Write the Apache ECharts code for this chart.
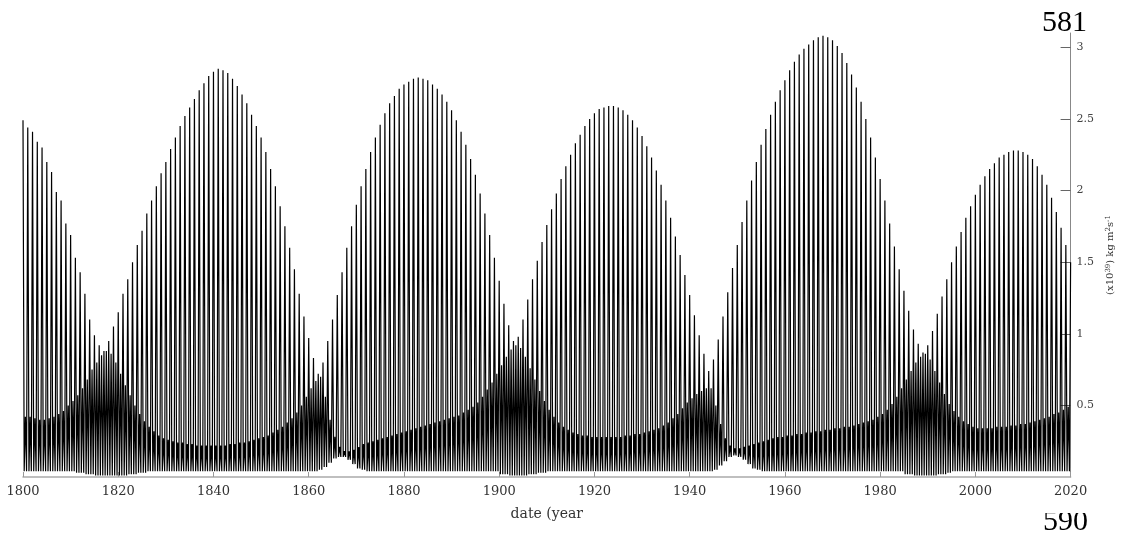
<!DOCTYPE html>
<html>
<head>
<meta charset="utf-8">
<script src="https://cdn.jsdelivr.net/npm/echarts@6/dist/echarts.min.js"></script>
<style>
html,body{margin:0;padding:0;background:#fff;}
#chart{width:1123px;height:533px;}
</style>
</head>
<body>
<div id="chart"></div>
<script>
// Year of each cycle (1800 .. 2020)
var startYear = 1800;
// Height of the tall spike in each yearly cycle
var peakValues = [
2.49,2.44,2.41,2.34,2.30,2.20,2.13,1.99,1.93,1.77,
1.69,1.53,1.43,1.28,1.10,0.99,0.92,0.88,0.95,1.05,
1.15,1.28,1.38,1.50,1.62,1.72,1.84,1.93,2.03,2.12,
2.20,2.29,2.37,2.45,2.52,2.58,2.64,2.70,2.75,2.80,
2.83,2.85,2.84,2.82,2.78,2.73,2.67,2.61,2.53,2.45,
2.37,2.27,2.15,2.03,1.89,1.75,1.60,1.45,1.28,1.12,
0.97,0.83,0.72,0.80,0.95,1.10,1.27,1.43,1.60,1.75,
1.90,2.03,2.15,2.27,2.37,2.46,2.54,2.61,2.66,2.71,
2.74,2.76,2.78,2.79,2.78,2.77,2.74,2.71,2.67,2.62,
2.56,2.49,2.41,2.32,2.22,2.11,1.98,1.84,1.69,1.53,
1.37,1.21,1.06,0.95,0.98,1.10,1.24,1.38,1.51,1.64,
1.76,1.87,1.98,2.08,2.17,2.25,2.33,2.39,2.45,2.50,
2.54,2.57,2.58,2.59,2.59,2.58,2.56,2.53,2.49,2.44,
2.38,2.31,2.23,2.14,2.04,1.93,1.81,1.68,1.55,1.41,
1.27,1.13,0.99,0.86,0.74,0.82,0.96,1.12,1.29,1.46,
1.62,1.78,1.93,2.07,2.20,2.32,2.43,2.53,2.62,2.70,
2.77,2.84,2.90,2.95,2.99,3.02,3.05,3.07,3.08,3.07,
3.05,3.01,2.96,2.89,2.81,2.72,2.62,2.50,2.37,2.23,
2.08,1.93,1.77,1.61,1.45,1.30,1.16,1.03,0.93,0.87,
0.92,1.02,1.14,1.26,1.38,1.50,1.61,1.71,1.81,1.89,
1.97,2.04,2.10,2.15,2.19,2.23,2.25,2.27,2.28,2.28,
2.27,2.25,2.22,2.17,2.11,2.04,1.95,1.85,1.74,1.62,
1.50
];
// Height of the small secondary spike in each yearly cycle
var secondValues = [
0.42,0.42,0.41,0.40,0.40,0.41,0.42,0.44,0.46,0.50,
0.53,0.57,0.62,0.68,0.75,0.80,0.85,0.88,0.86,0.80,
0.72,0.64,0.57,0.50,0.44,0.39,0.35,0.32,0.29,0.27,
0.26,0.25,0.24,0.24,0.23,0.23,0.22,0.22,0.22,0.22,
0.22,0.22,0.22,0.23,0.23,0.24,0.24,0.25,0.26,0.27,
0.28,0.29,0.31,0.33,0.35,0.38,0.41,0.45,0.50,0.56,
0.62,0.67,0.70,0.56,0.40,0.28,0.21,0.18,0.18,0.19,
0.21,0.23,0.24,0.25,0.26,0.27,0.28,0.29,0.30,0.31,
0.32,0.33,0.34,0.35,0.36,0.37,0.38,0.39,0.40,0.41,
0.42,0.43,0.45,0.47,0.49,0.52,0.56,0.61,0.66,0.72,
0.78,0.84,0.89,0.92,0.90,0.84,0.76,0.68,0.60,0.53,
0.47,0.42,0.38,0.35,0.33,0.31,0.30,0.29,0.29,0.28,
0.28,0.28,0.28,0.28,0.28,0.28,0.29,0.29,0.30,0.30,
0.31,0.32,0.33,0.34,0.36,0.38,0.41,0.44,0.48,0.52,
0.55,0.58,0.60,0.62,0.62,0.50,0.37,0.27,0.22,0.20,
0.20,0.21,0.22,0.23,0.24,0.25,0.26,0.27,0.28,0.28,
0.29,0.29,0.30,0.30,0.31,0.31,0.32,0.32,0.33,0.33,
0.34,0.34,0.35,0.35,0.36,0.37,0.38,0.39,0.40,0.42,
0.44,0.47,0.51,0.56,0.62,0.68,0.74,0.80,0.84,0.86,
0.82,0.74,0.66,0.58,0.51,0.46,0.42,0.39,0.37,0.35,
0.34,0.34,0.34,0.34,0.35,0.35,0.35,0.36,0.36,0.37,
0.37,0.38,0.39,0.40,0.41,0.42,0.44,0.45,0.47,0.49,
0.50
];
// Trough level between spikes in each yearly cycle
var troughValues = [
0.04,0.04,0.04,0.04,0.04,0.04,0.04,0.04,0.04,0.04,
0.04,0.03,0.03,0.02,0.02,0.01,0.01,0.01,0.01,0.01,
0.01,0.01,0.02,0.02,0.03,0.03,0.04,0.04,0.04,0.04,
0.04,0.04,0.04,0.04,0.04,0.04,0.04,0.04,0.04,0.04,
0.04,0.04,0.04,0.04,0.04,0.04,0.04,0.04,0.04,0.04,
0.04,0.04,0.04,0.04,0.04,0.04,0.04,0.04,0.04,0.04,
0.04,0.04,0.05,0.07,0.10,0.13,0.14,0.14,0.12,0.09,
0.06,0.05,0.04,0.04,0.04,0.04,0.04,0.04,0.04,0.04,
0.04,0.04,0.04,0.04,0.04,0.04,0.04,0.04,0.04,0.04,
0.04,0.04,0.04,0.04,0.04,0.04,0.04,0.04,0.04,0.04,
0.02,0.02,0.01,0.01,0.01,0.01,0.02,0.02,0.03,0.03,
0.04,0.04,0.04,0.04,0.04,0.04,0.04,0.04,0.04,0.04,
0.04,0.04,0.04,0.04,0.04,0.04,0.04,0.04,0.04,0.04,
0.04,0.04,0.04,0.04,0.04,0.04,0.04,0.04,0.04,0.04,
0.04,0.04,0.04,0.04,0.04,0.05,0.08,0.11,0.14,0.15,
0.14,0.12,0.09,0.06,0.05,0.04,0.04,0.04,0.04,0.04,
0.04,0.04,0.04,0.04,0.04,0.04,0.04,0.04,0.04,0.04,
0.04,0.04,0.04,0.04,0.04,0.04,0.04,0.04,0.04,0.04,
0.04,0.04,0.04,0.04,0.04,0.02,0.02,0.01,0.01,0.01,
0.01,0.01,0.02,0.02,0.03,0.04,0.04,0.04,0.04,0.04,
0.04,0.04,0.04,0.04,0.04,0.04,0.04,0.04,0.04,0.04,
0.04,0.04,0.04,0.04,0.04,0.04,0.04,0.04,0.04,0.04,
0.04
];
var xTickLabels = [1800,1820,1840,1860,1880,1900,1920,1940,1960,1980,2000,2020];
var yTickLabels = [0.5,1,1.5,2,2.5,3];

// Build the line: each cycle = tall spike, trough, small spike, trough
var lineData = [];
for (var i = 0; i < peakValues.length; i++) {
  var yr = startYear + i;
  lineData.push([yr, peakValues[i]]);
  if (i === peakValues.length - 1) break;
  lineData.push([yr + 0.25, troughValues[i]]);
  lineData.push([yr + 0.5, secondValues[i]]);
  lineData.push([yr + 0.75, troughValues[i]]);
}

var serif = 'DejaVu Serif';
var chart = echarts.init(document.getElementById('chart'), null, {renderer: 'canvas'});
chart.setOption({
  animation: false,
  backgroundColor: '#fff',
  grid: {left: 23, right: 51, top: 33, bottom: 56, containLabel: false},
  xAxis: {
    type: 'value', min: 1800, max: 2020, interval: 20,
    name: 'date (year', nameLocation: 'middle', nameGap: 30,
    nameTextStyle: {fontFamily: serif, fontSize: 14, color: '#333'},
    axisLine: {lineStyle: {color: '#aaa', width: 1.5}},
    axisTick: {inside: true, length: 5, lineStyle: {color: '#999'}},
    axisLabel: {fontFamily: serif, fontSize: 13, color: '#333', margin: 8,
      customValues: xTickLabels,
      formatter: function (v) { return String(Math.round(v)); }},
    splitLine: {show: false}
  },
  yAxis: {
    type: 'value', position: 'right', min: 0, max: 3.1,
    name: '{a|(x10}{s|39}{a|) kg m}{s|2}{a|s}{s|-1}',
    nameLocation: 'middle', nameGap: 32, nameRotate: 90,
    nameTextStyle: {
      color: '#333',
      rich: {
        a: {fontFamily: serif, fontSize: 10, color: '#333'},
        s: {fontFamily: serif, fontSize: 7, color: '#333', verticalAlign: 'top', lineHeight: 10}
      }
    },
    axisLine: {show: true, lineStyle: {color: '#888', width: 1}},
    axisTick: {show: true, inside: true, length: 10, lineStyle: {color: '#666'},
      customValues: yTickLabels},
    axisLabel: {fontFamily: serif, fontSize: 11, color: '#444', margin: 6,
      customValues: yTickLabels},
    splitLine: {show: false}
  },
  series: [{
    type: 'line',
    data: lineData,
    showSymbol: false,
    symbol: 'none',
    sampling: null,
    lineStyle: {color: '#000', width: 1.2},
    z: 2
  }],
  graphic: [
    {type: 'text', left: 1042, top: 8, z: 10,
      style: {text: '581', font: '30px "Liberation Serif"', fill: '#000'}},
    {type: 'text', x: 1043, y: 522, z: 10,
      style: {text: '590', font: '30px "Liberation Serif"', fill: '#000', verticalAlign: 'middle'}},
    {type: 'rect', shape: {x: 1038, y: 500, width: 62, height: 13}, z: 11,
      style: {fill: '#fff'}}
  ]
});
</script>
</body>
</html>
